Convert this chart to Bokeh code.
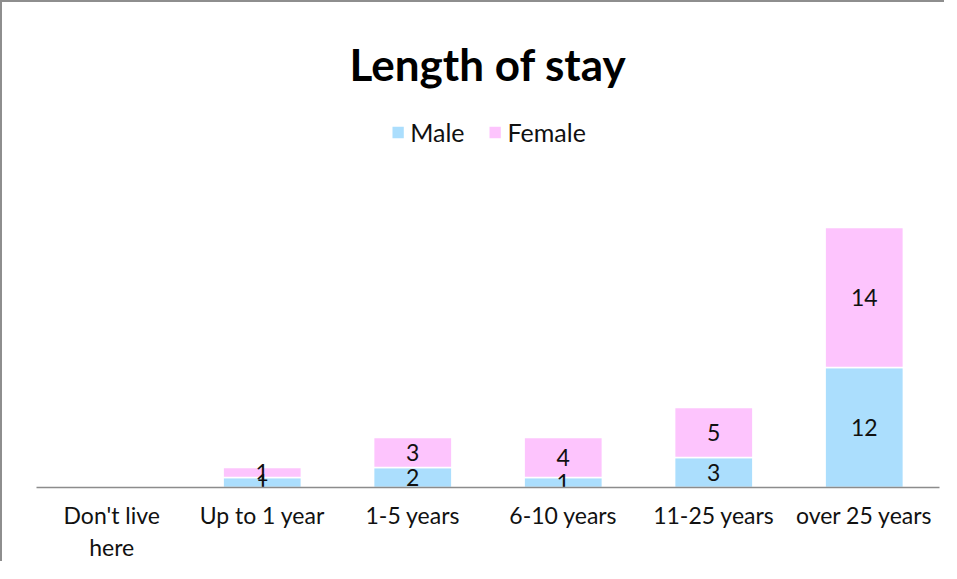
from bokeh.plotting import figure
from bokeh.models import ColumnDataSource, Legend, LegendItem, Range1d
from bokeh.core.properties import value
from bokeh.embed import file_html
from bokeh.resources import INLINE

categories = ["Don't live\nhere", "Up to 1 year", "1-5 years", "6-10 years", "11-25 years", "over 25 years"]
male = [0, 1, 2, 1, 3, 12]
female = [0, 1, 3, 4, 5, 14]
series = ["Male", "Female"]
colors = ["#ABDEFD", "#FDC4FD"]

FONT = "Lato"

src = ColumnDataSource(dict(cat=categories, Male=male, Female=female))

p = figure(x_range=categories, y_range=Range1d(0, 39.8), width=944, height=561,
           output_backend="svg", toolbar_location=None,
           min_border_left=34, min_border_right=7, min_border_bottom=76, min_border_top=87)
p.styles = {"border-top": "2px solid #8e8e8e", "border-left": "2px solid #8e8e8e"}

renderers = p.vbar_stack(series, x="cat", width=0.52, source=src, color=colors,
                         line_color="white", line_width=1.5)

# data labels (segment centres), only for non-zero values
lx, ly, lt = [], [], []
for c, m, f in zip(categories, male, female):
    if m > 0:
        lx.append(c); ly.append(m / 2); lt.append(str(m))
    if f > 0:
        lx.append(c); ly.append(m + f / 2); lt.append(str(f))
lsrc = ColumnDataSource(dict(x=lx, y=ly, t=lt))
p.text(x="x", y="y", text="t", source=lsrc, text_align="center", text_baseline="middle",
       text_font=value(FONT), text_font_size="23px", text_color="#111111")

legend = Legend(items=[LegendItem(label=s, renderers=[r]) for s, r in zip(series, renderers)],
                orientation="horizontal", location="top_center",
                label_text_font=FONT, label_text_font_size="25px", label_text_color="#111111",
                glyph_width=16, glyph_height=16, label_standoff=5, spacing=22,
                border_line_color=None, background_fill_alpha=0, margin=28, padding=4)
p.add_layout(legend)

p.title.text = "Length of stay"
p.title.align = "center"
p.title.text_font = FONT
p.title.text_font_size = "44px"
p.title.text_font_style = "bold"
p.title.text_color = "#000000"
p.title.standoff = 0

p.xgrid.visible = False
p.ygrid.visible = False
p.yaxis.visible = False
p.outline_line_color = None
p.xaxis.axis_line_color = "#8c8c8c"
p.xaxis.axis_line_width = 1.5
p.xaxis.major_tick_line_color = None
p.xaxis.minor_tick_line_color = None
p.xaxis.major_tick_out = 0
p.xaxis.major_tick_in = 0
p.xaxis.major_label_text_font = FONT
p.xaxis.major_label_text_font_size = "23px"
p.xaxis.major_label_text_line_height = 1.15
p.xaxis.major_label_text_color = "#111111"
p.xaxis.major_label_standoff = 13

open("out.html", "w").write(file_html(p, INLINE))
